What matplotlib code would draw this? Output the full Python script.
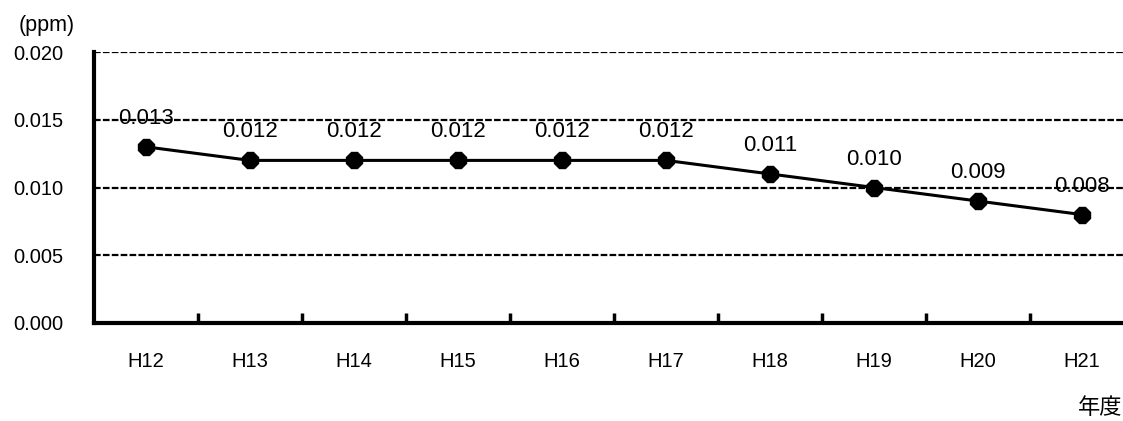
import matplotlib
matplotlib.use("Agg")
import matplotlib.pyplot as plt
from matplotlib.ticker import FixedLocator, NullFormatter

plt.rcParams['font.family'] = ['Liberation Sans', 'Noto Sans CJK JP', 'DejaVu Sans']

years = ["H12", "H13", "H14", "H15", "H16", "H17", "H18", "H19", "H20", "H21"]
values = [0.013, 0.012, 0.012, 0.012, 0.012, 0.012, 0.011, 0.010, 0.009, 0.008]
yticks = [0.000, 0.005, 0.010, 0.015, 0.020]

fig = plt.figure(figsize=(11.23, 4.21), dpi=100)
ax = fig.add_axes([94 / 1123, 98 / 421, 1 - 94 / 1123, 271 / 421])

x = list(range(len(years)))
ax.plot(x, values, color="black", linewidth=2.2, marker="8", markersize=12.5,
        markerfacecolor="black", markeredgecolor="black", zorder=3)

for xi, v in zip(x, values):
    ax.annotate(f"{v:.3f}", (xi, v), xytext=(0, 16.5), textcoords="offset points",
                ha="center", va="baseline", fontsize=16, zorder=4)

ax.set_ylim(0, 0.020)
ax.set_xlim(-0.5, 9.5 - 11 / 104)
ax.set_yticks(yticks)
ax.set_yticklabels([f"{t:.3f}" for t in yticks], fontsize=14.5)
ax.tick_params(axis="y", length=0, pad=22)

ax.set_xticks(x)
ax.set_xticklabels(years, fontsize=14.5)
ax.tick_params(axis="x", which="major", length=0, pad=21)
ax.xaxis.set_minor_locator(FixedLocator([i + 0.5 for i in range(9)]))
ax.xaxis.set_minor_formatter(NullFormatter())
ax.tick_params(axis="x", which="minor", direction="in", length=7, width=2.5)

for t in yticks[1:]:
    ax.axhline(t, color="black", linewidth=1.6, linestyle=(0, (3, 1)), zorder=1)

for side in ("top", "right"):
    ax.spines[side].set_visible(False)
ax.spines["left"].set_linewidth(3)
ax.spines["bottom"].set_linewidth(3)

fig.text(19 / 1123, 1 - 25 / 421, "(ppm)", fontsize=15.5, ha="left", va="center")
fig.text(1122 / 1123, 1 - 407 / 421, "年度", fontsize=16, ha="right", va="center",
         family=["Noto Sans CJK JP", "DejaVu Sans"])

fig.savefig("out.png", dpi=100)
